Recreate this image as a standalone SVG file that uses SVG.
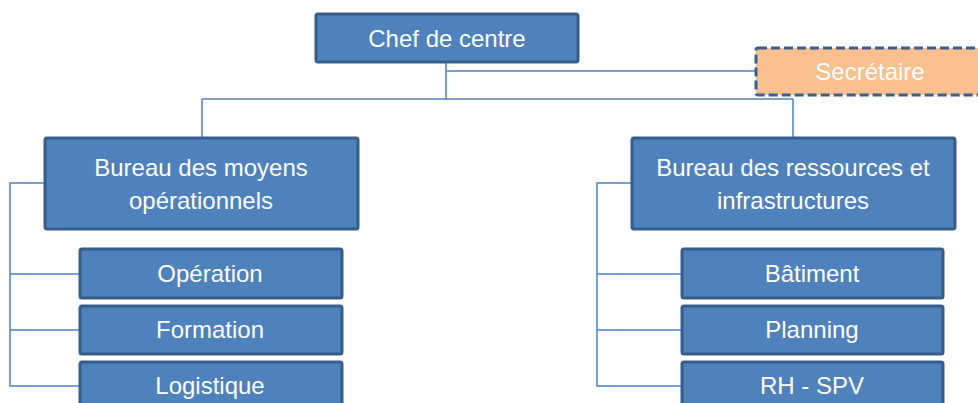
<svg xmlns="http://www.w3.org/2000/svg" width="978" height="403" viewBox="0 0 978 403">
<style>
.box{fill:#4F81BD;stroke:#385D8A;stroke-width:3}
.sec{fill:#FAC090;stroke:#3A5F8F;stroke-width:3;stroke-dasharray:9 4}
.t{font-family:"Liberation Sans",Arial,sans-serif;font-size:24px;fill:#FFFFFF;text-anchor:middle}
.c{fill:none;stroke:#4F81BD;stroke-width:1.5}
</style>
<rect width="978" height="403" fill="#FFFFFF"/>
<g id="connectors">
<path class="c" d="M446,62 V99 M446,71 H756 M202,99 H793 M202,99 V138 M793,99 V138"/>
<path class="c" d="M45,183 H10 V386 H80 M10,274 H80 M10,330 H80"/>
<path class="c" d="M632,183 H597 V386 H682 M597,274 H682 M597,330 H682"/>
</g>
<g id="chef"><rect class="box" x="316" y="14" width="262" height="48" rx="2"/><text class="t" x="447" y="47">Chef de centre</text></g>
<g id="secretaire"><rect class="sec" x="756" y="48" width="230" height="47" rx="2"/><text class="t" x="870" y="80">Secrétaire</text></g>
<g id="bmo"><rect class="box" x="45" y="138" width="313" height="91" rx="2"/><text class="t" x="201" y="176">Bureau des moyens</text><text class="t" x="201" y="209">opérationnels</text></g>
<g id="bri"><rect class="box" x="632" y="138" width="323" height="91" rx="2"/><text class="t" x="793" y="176">Bureau des ressources et</text><text class="t" x="793" y="209">infrastructures</text></g>
<g id="operation"><rect class="box" x="80" y="249" width="262" height="49" rx="2"/><text class="t" x="210" y="282">Opération</text></g>
<g id="formation"><rect class="box" x="80" y="306" width="262" height="48" rx="2"/><text class="t" x="210" y="338">Formation</text></g>
<g id="logistique"><rect class="box" x="80" y="362" width="262" height="48" rx="2"/><text class="t" x="210" y="394">Logistique</text></g>
<g id="batiment"><rect class="box" x="682" y="249" width="261" height="49" rx="2"/><text class="t" x="812" y="282">Bâtiment</text></g>
<g id="planning"><rect class="box" x="682" y="306" width="261" height="48" rx="2"/><text class="t" x="812" y="338">Planning</text></g>
<g id="rhspv"><rect class="box" x="682" y="362" width="261" height="48" rx="2"/><text class="t" x="812" y="394">RH - SPV</text></g>
</svg>
